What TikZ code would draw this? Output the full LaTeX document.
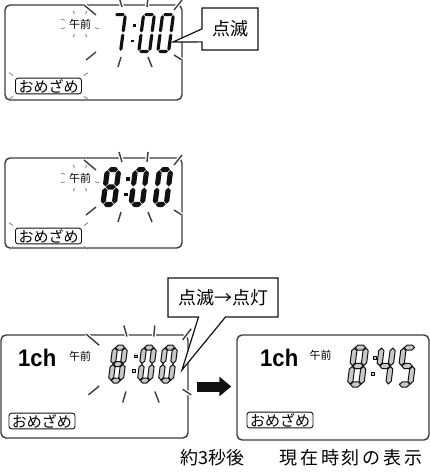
\documentclass[tikz,border=0pt]{standalone}
\usepackage{fontspec}
\usepackage{tikz}
\usetikzlibrary{positioning,arrows.meta,shapes.callouts,calc}
\newfontfamily\jp{Noto Sans CJK JP}
\newfontfamily\jpwide{Noto Sans CJK JP}[LetterSpace=16]
\newfontfamily\chfont{Liberation Sans}
\definecolor{ink}{HTML}{111111}
\definecolor{rim}{HTML}{3C3C3C}
\definecolor{spark}{HTML}{8C8C8C}
\definecolor{seggray}{HTML}{C8C8C8}
\tikzset{
  panel/.style={rectangle,rounded corners=5pt,draw=rim,line width=1.4pt,inner sep=0pt},
  ray/.style={draw=rim,line width=1.4pt,preaction={draw=white,line width=4pt}},
  spark/.style={draw=spark,line width=0.9pt},
  tagbox/.style={rectangle,rounded corners=2.5pt,draw=ink,line width=0.9pt,
    inner xsep=3pt,inner ysep=1pt,font=\fontsize{15}{15}\jp},
  ampm/.style={inner sep=0pt,font=\fontsize{11}{11}\jp},
  chan/.style={inner sep=0pt,font=\fontsize{24}{24}\chfont\bfseries},
  note/.style={rectangle callout,draw=ink,fill=white,line width=1.2pt,
    inner sep=0pt,font=\fontsize{18}{18}\jp},
  undertext/.style={inner sep=0pt,font=\fontsize{18}{18}\jp},
  seg/.style={},
  segsolid/.style={fill=ink},
  segline/.style={fill=seggray,draw=ink,line width=1pt},
  bigarrow/.style={draw=ink,line width=10pt,-{Triangle[length=12pt,width=19pt]}},
}
\newcommand\lcdhor[1]{%
  \path[seg] ({\segT+\segG},{#1}) -- ({2*\segT+\segG},{#1+\segT}) -- ({\segW-2*\segT-\segG},{#1+\segT})
    -- ({\segW-\segT-\segG},{#1}) -- ({\segW-2*\segT-\segG},{#1-\segT}) -- ({2*\segT+\segG},{#1-\segT}) -- cycle;}
\newcommand\lcdver[3]{%
  \path[seg] ({#1},{#2+\segG}) -- ({#1+\segT},{#2+\segT+\segG}) -- ({#1+\segT},{#3-\segT-\segG})
    -- ({#1},{#3-\segG}) -- ({#1-\segT},{#3-\segT-\segG}) -- ({#1-\segT},{#2+\segT+\segG}) -- cycle;}
\def\lcdA{\lcdhor{\segH-\segT}}
\def\lcdB{\lcdver{\segW-\segT}{\segH/2}{\segH-\segT}}
\def\lcdC{\lcdver{\segW-\segT}{\segT}{\segH/2}}
\def\lcdD{\lcdhor{\segT}}
\def\lcdE{\lcdver{\segT}{\segT}{\segH/2}}
\def\lcdF{\lcdver{\segT}{\segH/2}{\segH-\segT}}
\def\lcdG{\lcdhor{\segH/2}}
\newcommand\lcddigit[3]{%
  \begin{scope}[shift={(#1,#2)},x={(1pt,0pt)},y={(\segS pt,1pt)}]
    \foreach \s in {#3} {\csname lcd\s\endcsname}
  \end{scope}}
\newcommand\lcdcolon[2]{%
  \begin{scope}[shift={(#1,#2)},x={(1pt,0pt)},y={(\segS pt,1pt)}]
    \path[seg] (0,{0.27*\segH}) rectangle ++(\segC,\segC);
    \path[seg] (0,{0.66*\segH}) rectangle ++(\segC,\segC);
  \end{scope}}
\newcommand\flashrays{%
  \draw[ray] (-52,-27) -- (-40,-17);
  \draw[ray] (-17,-35) -- (-14,-25);
  \draw[ray] (12,-35) -- (11,-25);
  \draw[ray] (46,-32) -- (38,-22);
  \draw[ray] (-50,28) -- (-40,20);
  \draw[ray] (-15,25) -- (-18,35);
  \draw[ray] (12,25) -- (16,35);
  \draw[ray] (38,23) -- (46,28);}
\newcommand\sparkring[1]{%
  \begin{scope}[shift={(#1)}]
    \foreach \a in {20,70,110,160,200,250,290}
      \draw[spark] ({16*cos(\a)},{11*sin(\a)}) -- ({20*cos(\a)},{14*sin(\a)});
  \end{scope}}
\newcommand\sparkcorners[1]{%
  \foreach \c/\dx/\dy in {north west/-1/-1,south west/-1/1,north east/1/-1,south east/1/1}
    \draw[spark] ($(#1.\c)+(2*\dx,2*\dy)$) -- ++(4*\dx,3*\dy);}

\begin{document}
\begin{tikzpicture}[x=1pt,y=-1pt]
  \path[use as bounding box,fill=white] (0,0) rectangle (430,474);

  % panels
  \node[panel,minimum width=177pt,minimum height=95pt] (p1) at (93.5,52.5) {};
  \node[panel,minimum width=177pt,minimum height=90pt] (p2) at (93.5,203) {};
  \node[panel,minimum width=187pt,minimum height=103pt] (p3) at (94.5,386.5) {};
  \node[panel,minimum width=192pt,minimum height=105pt] (p4) at (333,387.5) {};

  \begin{scope}[shift={(136,32)}] \flashrays \end{scope}
  \begin{scope}[shift={(136,187)}] \flashrays \end{scope}
  \begin{scope}[shift={(142,364)},xscale=1.07,yscale=1.1] \flashrays \end{scope}

  % panel 1
  \node[ampm] (am1) at (80,24) {午前};
  \sparkring{am1.center}
  \node[tagbox] (o1) at (48.5,86) {おめざめ};
  \sparkcorners{o1}
  \begin{scope}[seg/.style=segsolid]
    \def\segW{14}\def\segH{40}\def\segT{1.6}\def\segG{0.6}\def\segS{0.13}\def\segC{2.6}
    \lcddigit{108}{53}{A,B,C}
    \lcdcolon{130}{53}
    \lcddigit{137}{53}{A,B,C,D,E,F}
    \lcddigit{156}{53}{A,B,C,D,E,F}
  \end{scope}

  % panel 2
  \node[ampm] (am2) at (80,178) {午前};
  \sparkring{am2.center}
  \node[tagbox] (o2) at (48.5,236) {おめざめ};
  \sparkcorners{o2}
  \begin{scope}[seg/.style=segsolid]
    \def\segW{16.5}\def\segH{40}\def\segT{2.6}\def\segG{0.6}\def\segS{0.13}\def\segC{3.2}
    \lcddigit{100}{207}{A,B,C,D,E,F,G}
    \lcdcolon{123}{207}
    \lcddigit{128}{207}{A,B,C,D,E,F}
    \lcddigit{152}{207}{A,B,C,D,E,F}
  \end{scope}

  % panel 3
  \node[chan,anchor=base west] (ch3) at (18,366) {\scalebox{0.92}[1]{1ch}};
  \node[ampm] (am3) at (80,356) {午前};
  \node[tagbox] (o3) at (42,421) {おめざめ};
  \begin{scope}[seg/.style=segline]
    \def\segW{15}\def\segH{38}\def\segT{2.5}\def\segG{0.5}\def\segS{0.13}\def\segC{2.8}
    \lcddigit{108}{383}{A,B,C,D,E,F,G}
    \lcdcolon{131}{383}
    \lcddigit{137}{383}{A,B,C,D,E,F}
    \lcddigit{158}{383}{A,B,C,D,E,F}
  \end{scope}

  % panel 4
  \node[chan,anchor=base west] (ch4) at (260,366) {\scalebox{0.92}[1]{1ch}};
  \node[ampm] (am4) at (320.5,355) {午前};
  \node[tagbox] (o4) at (280,420) {おめざめ};
  \begin{scope}[seg/.style=segline]
    \def\segW{16.5}\def\segH{42}\def\segT{2.6}\def\segG{0.5}\def\segS{0.13}\def\segC{2.8}
    \lcddigit{347}{387}{A,B,C,D,E,F,G}
    \lcdcolon{370}{387}
    \lcddigit{374}{387}{B,C,F,G}
    \lcddigit{396}{387}{A,C,D,F,G}
  \end{scope}

  % callouts
  \coordinate (t1) at (173,42);
  \node[note,minimum width=56pt,minimum height=42pt,callout absolute pointer={(t1)},
    callout pointer width=13pt] (c1) at (230,29) {点滅};
  \coordinate (t2) at (182,370);
  \node[note,minimum width=110pt,minimum height=39pt,callout absolute pointer={(t2)},
    callout pointer width=27pt] (c2) at (223,297.5) {点滅→点灯};

  \draw[bigarrow,shorten <=8pt,shorten >=5pt] (p3.east) -- (p3.east -| p4.west);

  \node[undertext] (wait) at (212.5,458) {約3秒後};
  \node[undertext,font=\fontsize{18}{18}\jpwide] (now) at (351,458) {現在時刻の表示};
\end{tikzpicture}
\end{document}
